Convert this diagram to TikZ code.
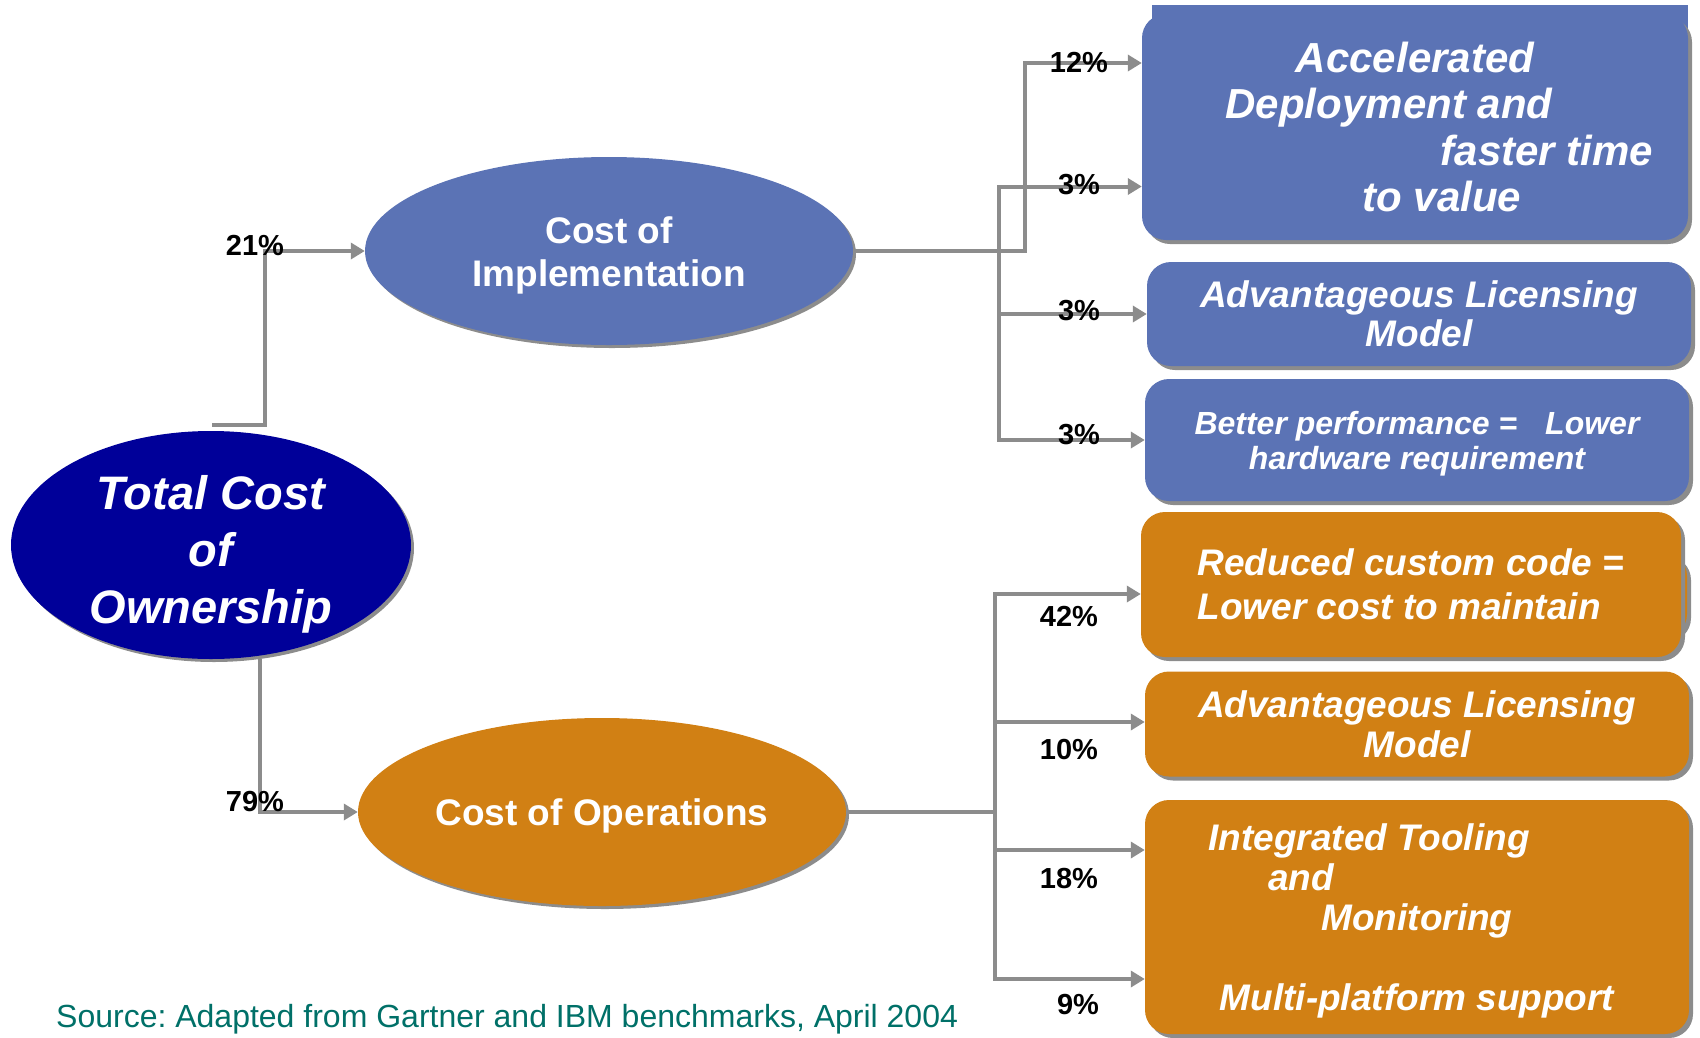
\documentclass[tikz,border=0pt]{standalone}
\usepackage{fontspec}
\setmainfont{Liberation Sans}
\usetikzlibrary{shapes.geometric,arrows.meta,shadows}
\definecolor{implblue}{RGB}{91,115,181}
\definecolor{opsorange}{RGB}{209,128,20}
\definecolor{tconavy}{RGB}{0,0,153}
\definecolor{linegray}{RGB}{140,140,140}
\definecolor{srcteal}{RGB}{0,112,104}
\newcommand{\fs}[2]{\fontsize{#1}{#2}\selectfont}
\frenchspacing

\begin{document}
\begin{tikzpicture}[x=1pt, y=-1pt,
  oval/.style = {ellipse, text=white, align=center, inner sep=0pt, drop shadow={shadow xshift=3pt, shadow yshift=-3pt, fill=black!45, opacity=1}},
  box/.style = {rectangle, rounded corners=24pt, text=white, align=center, minimum width=544pt, inner sep=0pt, drop shadow={shadow xshift=4pt, shadow yshift=-4pt, fill=black!45, opacity=1}},
  arr/.style = {draw=linegray, line width=4pt, -{Triangle[length=14pt, width=16pt]}},
  pct/.style = {font=\bfseries\fs{29}{30}, inner sep=1pt}]
\useasboundingbox (0,0) rectangle (1700,1037);
\node[oval, fill=tconavy, inner sep=-14pt, minimum width=400pt, minimum height=228pt, font=\bfseries\itshape\fs{47}{57}] (tco) at (211,545) {\rule{0pt}{52pt}Total Cost\\of\\Ownership};
\node[oval, fill=implblue, minimum width=488pt, minimum height=188pt, font=\bfseries\fs{37}{43}] (coi) at (609,251) {\rule{0pt}{35pt}Cost of\\Implementation};
\node[oval, fill=opsorange, minimum width=488pt, minimum height=188pt, font=\bfseries\fs{37}{43}] (coo) at (602,812) {\rule{0pt}{35pt}Cost of Operations};
\fill[implblue] (1152,5) rectangle (1688,60);
\node[box, fill=implblue, minimum width=546pt, minimum height=226pt, font=\bfseries\itshape\fs{42}{46.5}] (accel) at (1415,127) {Accelerated\\Deployment and\hspace*{52pt}\null\\\hspace*{264pt}faster time\\\hspace*{54pt}to value};
\node[box, fill=implblue, minimum height=104pt, font=\bfseries\itshape\fs{37}{39}] (lic1) at (1419,314) {Advantageous Licensing\\Model};
\node[box, fill=implblue, minimum height=122pt, font=\bfseries\itshape\fs{32}{35}] (perf) at (1417,440) {\rule{0pt}{31pt}Better performance =\hspace{28pt}Lower\\hardware requirement};
\node[box, fill=opsorange, minimum width=537pt, minimum height=86pt] (codeback) at (1418.5,595) {};
\node[box, fill=opsorange, minimum width=540pt, minimum height=145pt, font=\bfseries\itshape\fs{37}{44}, align=left] (code) at (1411,584.5) {Reduced custom code =\\Lower cost to maintain};
\node[box, fill=opsorange, minimum height=105pt, font=\bfseries\itshape\fs{37}{40}] (lic2) at (1417,724) {Advantageous Licensing\\Model};
\node[box, fill=opsorange, minimum height=234pt, font=\bfseries\itshape\fs{37}{40}] (tool) at (1417,917) {\rule{0pt}{35pt}Integrated Tooling\hspace*{96pt}\null\\and\hspace*{232pt}\null\\Monitoring\\[40pt]Multi-platform support};
\coordinate (tcotop) at (212,425);
\draw[arr] (tcotop) -- ++(53,0) |- (coi.west);
\draw[arr] ([xshift=49pt]tco.south) |- (coo.west);
\draw[arr] (coi.east) -- ++(172,0) |- ([yshift=64pt]accel.west);
\draw[arr] (coi.east) -- ++(146,0) |- ([yshift=-59.5pt]accel.west);
\draw[arr] (coi.east) -- ++(146,0) |- (lic1.west);
\draw[arr] (coi.east) -- ++(146,0) |- (perf.west);
\draw[arr] (coo.east) -- ++(149,0) |- ([yshift=-9.5pt]code.west);
\draw[arr] (coo.east) -- ++(149,0) |- ([yshift=2pt]lic2.west);
\draw[arr] (coo.east) -- ++(149,0) |- ([yshift=67pt]tool.west);
\draw[arr] (coo.east) -- ++(149,0) |- ([yshift=-62pt]tool.west);
\node[pct] (p21) at (255,245) {21\%};
\node[pct] (p79) at (255,802) {79\%};
\node[pct] (p12) at (1079,62) {12\%};
\node[pct] (p3a) at (1079,185) {3\%};
\node[pct] (p3b) at (1079,311) {3\%};
\node[pct] (p3c) at (1079,435) {3\%};
\node[pct] (p42) at (1069,616) {42\%};
\node[pct] (p10) at (1069,750) {10\%};
\node[pct] (p18) at (1069,879) {18\%};
\node[pct] (p9) at (1078,1005) {9\%};
\node[anchor=west, text=srcteal, font=\fs{32}{36}, inner sep=0pt] (src) at (56,1019) {Source: Adapted from Gartner and IBM benchmarks, April 2004};
\end{tikzpicture}
\end{document}
